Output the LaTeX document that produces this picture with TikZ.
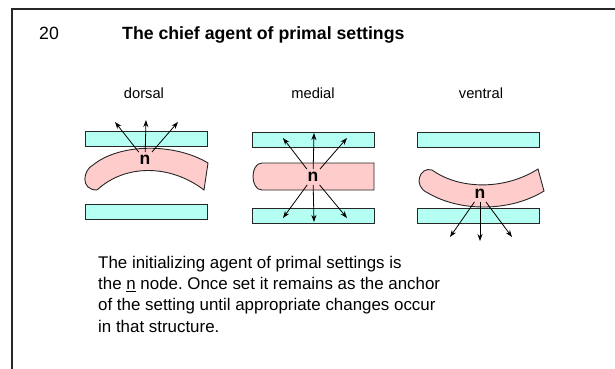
\documentclass[tikz,border=0pt]{standalone}
\usepackage{fontspec}
\setmainfont{Liberation Sans}
\usetikzlibrary{arrows.meta}
\definecolor{slabfill}{RGB}{180,255,242}
\definecolor{bandfill}{RGB}{255,204,204}
\frenchspacing

\begin{document}
\begin{tikzpicture}
  [x=1pt,y=-1pt,
   slab/.style={draw=black!85,fill=slabfill,line width=0.9pt,
     minimum width=122pt,minimum height=15pt,inner sep=0pt},
   band/.style={draw=black!85,fill=bandfill,line width=0.9pt},
   tag/.style={font=\fontsize{14.7}{18}\selectfont,anchor=base},
   core/.style={font=\fontsize{17.5}{20}\selectfont\bfseries,inner sep=3pt},
   ray/.style={-{Stealth[length=7pt,width=5pt]},line width=0.8pt}]

  \useasboundingbox (0,0) rectangle (615,368);
  \draw[line width=1.5pt,black!85] (620,9) -- (12,9) -- (12,372);

  \node[anchor=base west,inner sep=0pt,font=\fontsize{17.7}{21}\selectfont]
    (num) at (39,39) {20};
  \node[anchor=base west,inner sep=0pt,font=\fontsize{17.7}{21}\selectfont\bfseries]
    (title) at (122,39) {The chief agent of primal settings};

  \node[tag] (dorsal)  at (144,98) {dorsal};
  \node[tag] (medial)  at (313,98) {medial};
  \node[tag] (ventral) at (481,98) {ventral};

  % dorsal
  \node[slab] (dtop) at (146,139) {};
  \node[slab] (dbot) at (146.5,212) {};
  \draw[band] (208,163) .. controls (175,143) and (120,143) .. (93,165)
    .. controls (83,170) and (80,190) .. (97,190)
    .. controls (125,164) and (170,164) .. (204,190) -- cycle;
  \node[core] (dn) at (145,160) {n};
  \coordinate (d1) at (115,122);
  \coordinate (d2) at (146,120);
  \coordinate (d3) at (178,122);
  \draw[ray] (dn) -- (d1);
  \draw[ray] (dn) -- (d2);
  \draw[ray] (dn) -- (d3);

  % medial
  \node[slab] (mtop) at (313.5,139.5) {};
  \node[slab] (mbot) at (313.5,216) {};
  \draw[band] (374,163) -- (262,163) .. controls (250,163) and (250,190) .. (262,190)
    -- (374,190) -- cycle;
  \node[core] (mn) at (313,177) {n};
  \coordinate (m1) at (283,138);
  \coordinate (m2) at (314,133);
  \coordinate (m3) at (347,138);
  \coordinate (m4) at (283,218);
  \coordinate (m5) at (314,222);
  \coordinate (m6) at (347,218);
  \draw[ray] (mn) -- (m1);
  \draw[ray] (mn) -- (m2);
  \draw[ray] (mn) -- (m3);
  \draw[ray] (mn) -- (m4);
  \draw[ray] (mn) -- (m5);
  \draw[ray] (mn) -- (m6);

  % ventral
  \node[slab] (vtop) at (478,139.5) {};
  \node[slab] (vbot) at (478,216) {};
  \draw[band] (538,169) .. controls (505,190) and (460,190) .. (432,170)
    .. controls (420,166) and (412,186) .. (428,193)
    .. controls (460,212) and (510,212) .. (544,191) -- cycle;
  \node[core] (vn) at (480,194) {n};
  \coordinate (v1) at (450,237);
  \coordinate (v2) at (480,241);
  \coordinate (v3) at (512,237);
  \draw[ray] (vn) -- (v1);
  \draw[ray] (vn) -- (v2);
  \draw[ray] (vn) -- (v3);

  \node[anchor=base west,align=left,inner sep=0pt,
    font=\fontsize{16.9}{21.3}\selectfont] (body) at (98,332)
    {The initializing agent of primal settings is\\
     the \underline{n} node. Once set it remains as the anchor\\
     of the setting until appropriate changes occur\\
     in that structure.};
\end{tikzpicture}
\end{document}
